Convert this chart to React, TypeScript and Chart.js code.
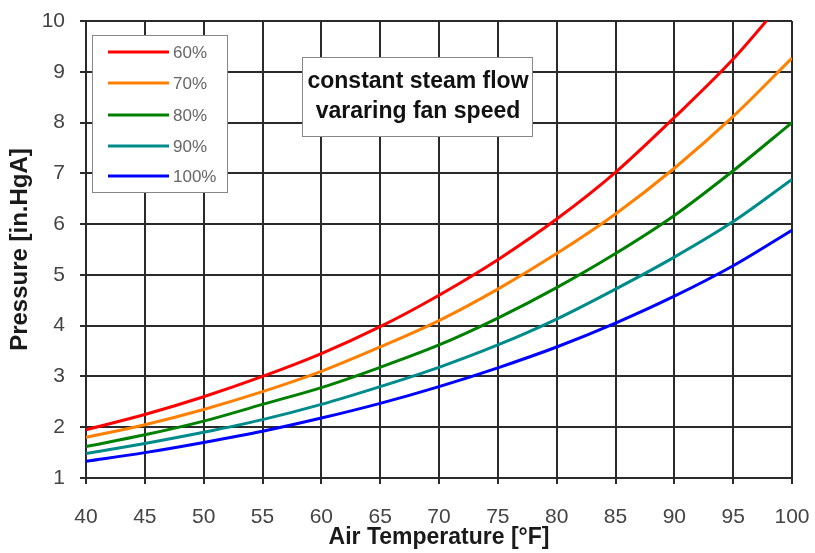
import React, { useEffect, useRef } from "react";
import { Chart, registerables } from "chart.js";

Chart.register(...registerables);

const temperatures = [40, 45, 50, 55, 60, 65, 70, 75, 80, 85, 90, 95, 100];
const seriesLabels = ["60%", "70%", "80%", "90%", "100%"];
const seriesColors = ["#ff0000", "#ff8000", "#008000", "#008b8b", "#0000ff"];
const fan60 = [1.95, 2.25, 2.6, 3.0, 3.45, 3.98, 4.6, 5.3, 6.1, 7.02, 8.1, 9.25, 10.6];
const fan70 = [1.8, 2.05, 2.35, 2.7, 3.1, 3.58, 4.1, 4.72, 5.42, 6.2, 7.1, 8.12, 9.27];
const fan80 = [1.62, 1.85, 2.12, 2.45, 2.78, 3.18, 3.62, 4.15, 4.75, 5.42, 6.17, 7.05, 8.0];
const fan90 = [1.48, 1.68, 1.9, 2.15, 2.45, 2.8, 3.18, 3.62, 4.13, 4.72, 5.35, 6.05, 6.88];
const fan100 = [1.33, 1.5, 1.7, 1.92, 2.18, 2.47, 2.8, 3.17, 3.58, 4.05, 4.58, 5.18, 5.88];
const seriesValues = [fan60, fan70, fan80, fan90, fan100];
const annotationLines = ["constant steam flow", "vararing fan speed"];
const xTitle = "Air Temperature [°F]";
const yTitle = "Pressure [in.HgA]";

const FONT = "'Liberation Sans', Arial, sans-serif";

const overlayPlugin = {
  id: "overlay",
  afterDatasetsDraw(chart: any) {
    const ctx = chart.ctx;
    ctx.save();
    // legend box
    const lx = 92, ly = 35, lw = 135, lh = 157;
    ctx.fillStyle = "#ffffff";
    ctx.fillRect(lx, ly, lw, lh);
    ctx.strokeStyle = "#888888";
    ctx.lineWidth = 1;
    ctx.strokeRect(lx + 0.5, ly + 0.5, lw, lh);
    const ys = [52, 83, 115, 146, 176];
    chart.data.datasets.forEach((ds: any, i: number) => {
      const y = ys[i];
      ctx.strokeStyle = ds.borderColor;
      ctx.lineWidth = 3;
      ctx.beginPath();
      ctx.moveTo(108, y);
      ctx.lineTo(169, y);
      ctx.stroke();
      ctx.fillStyle = "#666666";
      ctx.font = "17px " + FONT;
      ctx.textAlign = "left";
      ctx.textBaseline = "middle";
      ctx.fillText(ds.label, 173, y + 1);
    });
    // annotation box
    const ax = 302, ay = 57, aw = 230, ah = 79;
    ctx.fillStyle = "#ffffff";
    ctx.fillRect(ax, ay, aw, ah);
    ctx.strokeStyle = "#888888";
    ctx.lineWidth = 1;
    ctx.strokeRect(ax + 0.5, ay + 0.5, aw, ah);
    ctx.fillStyle = "#111111";
    ctx.font = "bold 23px " + FONT;
    ctx.textAlign = "center";
    ctx.textBaseline = "middle";
    ctx.fillText(annotationLines[0], ax + aw / 2 + 1, 82);
    ctx.fillText(annotationLines[1], ax + aw / 2 + 1, 112);
    ctx.restore();
  },
};

export default function App() {
  const ref = useRef<HTMLCanvasElement | null>(null);
  useEffect(() => {
    if (!ref.current) return;
    const chart = new Chart(ref.current, {
      type: "line",
      data: {
        datasets: seriesValues.map((vals, i) => ({
          label: seriesLabels[i],
          data: temperatures.map((t, j) => ({ x: t, y: vals[j] })),
          borderColor: seriesColors[i],
          backgroundColor: seriesColors[i],
          borderWidth: 3,
          pointRadius: 0,
          cubicInterpolationMode: "monotone" as const,
          fill: false,
        })),
      },
      options: {
        animation: false,
        responsive: false,
        maintainAspectRatio: false,
        layout: { padding: { left: 0, top: 21, right: 23, bottom: 0 } },
        plugins: { legend: { display: false }, tooltip: { enabled: false } },
        scales: {
          x: {
            type: "linear",
            min: 40,
            max: 100,
            ticks: {
              stepSize: 5,
              color: "#444",
              font: { size: 21, family: FONT },
              padding: 21,
              maxRotation: 0,
            },
            grid: { color: "#2a2a2a", lineWidth: 2, tickLength: 6, tickColor: "#2a2a2a" },
            border: { color: "#2a2a2a", width: 2 },
            title: {
              display: true,
              text: xTitle,
              color: "#1a1a1a",
              font: { size: 23, weight: "bold", family: FONT },
              padding: { top: 0, bottom: 2 },
            },
            afterFit: (s: any) => {
              s.height = 75;
              s.paddingLeft = 0;
              s.paddingRight = 0;
            },
          },
          y: {
            type: "linear",
            min: 1,
            max: 10,
            ticks: {
              stepSize: 1,
              color: "#444",
              font: { size: 21, family: FONT },
              padding: 15,
            },
            grid: { color: "#2a2a2a", lineWidth: 2, tickLength: 6, tickColor: "#2a2a2a" },
            border: { color: "#2a2a2a", width: 2 },
            title: {
              display: true,
              text: yTitle,
              color: "#1a1a1a",
              font: { size: 24, weight: "bold", family: FONT },
              padding: { top: 6, bottom: 0 },
            },
            afterFit: (s: any) => {
              s.width = 86;
              s.paddingTop = 0;
              s.paddingBottom = 0;
            },
          },
        },
      },
      plugins: [overlayPlugin],
    });
    return () => chart.destroy();
  }, []);
  return (
    <div style={{ position: "fixed", left: 0, top: 0, width: 815, height: 553, background: "#fff" }}>
      <canvas ref={ref} width={815} height={553} />
    </div>
  );
}
